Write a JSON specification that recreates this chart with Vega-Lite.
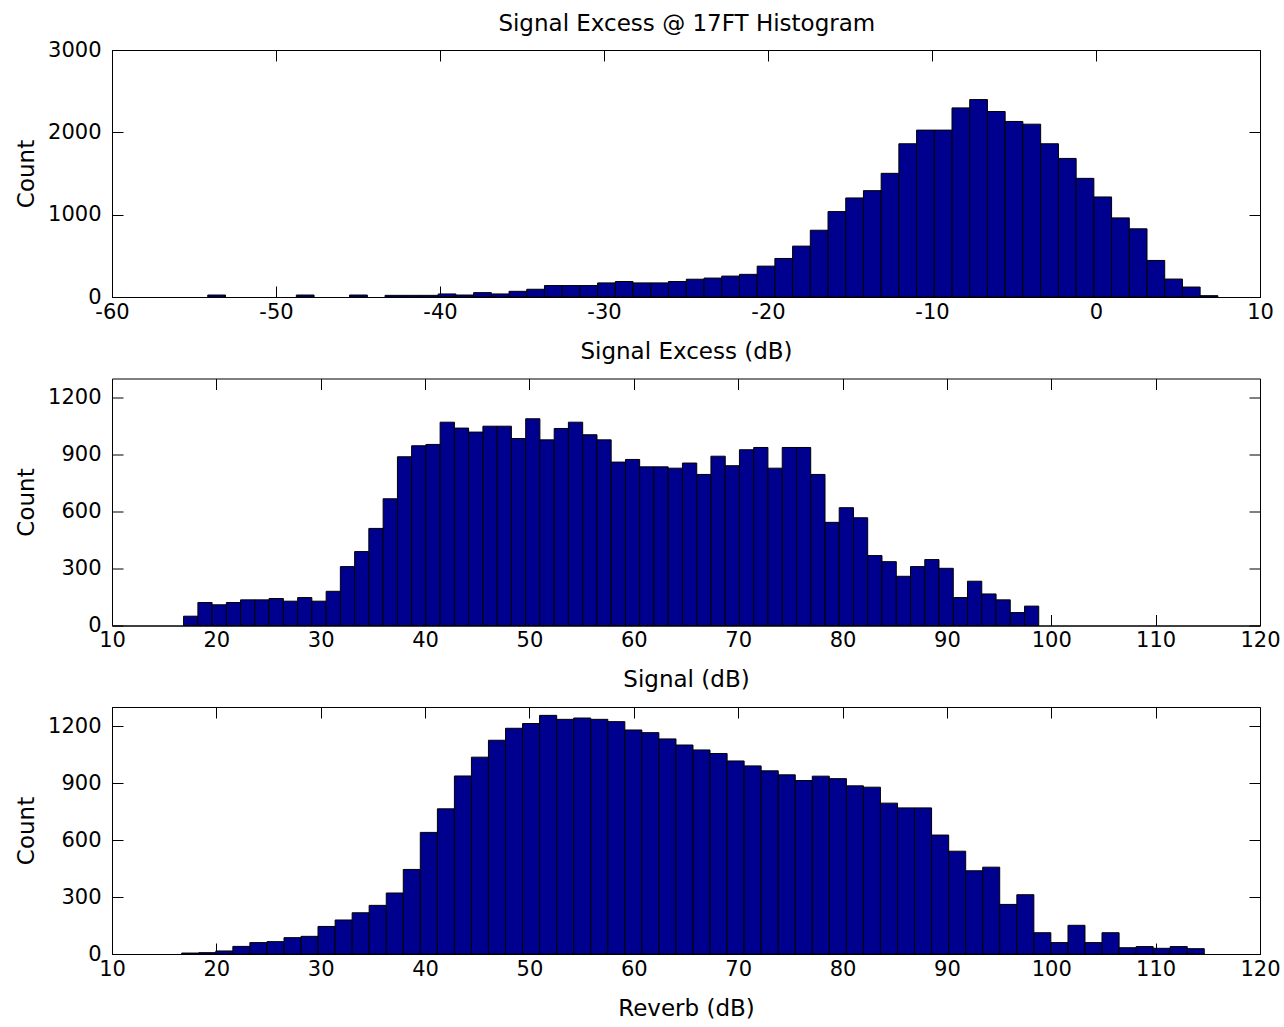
{
  "$schema": "https://vega.github.io/schema/vega-lite/v6.json",
  "background": "white",
  "padding": {"left": 15, "top": 12, "right": 15, "bottom": 5},
  "title": {"text": "Signal Excess @ 17FT Histogram", "anchor": "middle", "fontSize": 23, "font": "DejaVu Sans", "fontWeight": "normal", "color": "black", "offset": 3, "dx": 39},
  "config": {
    "font": "DejaVu Sans",
    "view": {"stroke": "black", "strokeWidth": 1},
    "axis": {"labelFontSize": 21, "titleFontSize": 23, "labelColor": "black", "titleColor": "black", "titleFontWeight": "normal", "domainColor": "black", "tickColor": "black", "grid": false, "labelFont": "DejaVu Sans", "titleFont": "DejaVu Sans", "labelFlush": false, "labelOverlap": false}
  },
  "spacing": 81.5,
  "bounds": "flush",
  "datasets": {
    "excess": [
      {"lo": -54.16, "hi": -53.08, "count": 24},
      {"lo": -48.76, "hi": -47.68, "count": 24},
      {"lo": -45.51, "hi": -44.43, "count": 24},
      {"lo": -43.35, "hi": -42.27, "count": 20},
      {"lo": -42.27, "hi": -41.19, "count": 20},
      {"lo": -41.19, "hi": -40.11, "count": 20},
      {"lo": -40.11, "hi": -39.03, "count": 37},
      {"lo": -39.03, "hi": -37.95, "count": 24},
      {"lo": -37.95, "hi": -36.87, "count": 53},
      {"lo": -36.87, "hi": -35.79, "count": 37},
      {"lo": -35.79, "hi": -34.71, "count": 69},
      {"lo": -34.71, "hi": -33.63, "count": 94},
      {"lo": -33.63, "hi": -32.55, "count": 139},
      {"lo": -32.55, "hi": -31.47, "count": 139},
      {"lo": -31.47, "hi": -30.39, "count": 139},
      {"lo": -30.39, "hi": -29.31, "count": 171},
      {"lo": -29.31, "hi": -28.23, "count": 188},
      {"lo": -28.23, "hi": -27.15, "count": 171},
      {"lo": -27.15, "hi": -26.07, "count": 171},
      {"lo": -26.07, "hi": -24.98, "count": 188},
      {"lo": -24.98, "hi": -23.90, "count": 216},
      {"lo": -23.90, "hi": -22.82, "count": 230},
      {"lo": -22.82, "hi": -21.74, "count": 254},
      {"lo": -21.74, "hi": -20.66, "count": 275},
      {"lo": -20.66, "hi": -19.58, "count": 375},
      {"lo": -19.58, "hi": -18.50, "count": 468},
      {"lo": -18.50, "hi": -17.42, "count": 618},
      {"lo": -17.42, "hi": -16.34, "count": 811},
      {"lo": -16.34, "hi": -15.26, "count": 1037},
      {"lo": -15.26, "hi": -14.18, "count": 1203},
      {"lo": -14.18, "hi": -13.10, "count": 1292},
      {"lo": -13.10, "hi": -12.02, "count": 1502},
      {"lo": -12.02, "hi": -10.94, "count": 1861},
      {"lo": -10.94, "hi": -9.86, "count": 2027},
      {"lo": -9.86, "hi": -8.78, "count": 2027},
      {"lo": -8.78, "hi": -7.70, "count": 2297},
      {"lo": -7.70, "hi": -6.62, "count": 2398},
      {"lo": -6.62, "hi": -5.54, "count": 2253},
      {"lo": -5.54, "hi": -4.46, "count": 2132},
      {"lo": -4.46, "hi": -3.375, "count": 2099},
      {"lo": -3.375, "hi": -2.29, "count": 1861},
      {"lo": -2.29, "hi": -1.21, "count": 1683},
      {"lo": -1.21, "hi": -0.13, "count": 1441},
      {"lo": -0.13, "hi": 0.95, "count": 1215},
      {"lo": 0.95, "hi": 2.03, "count": 961},
      {"lo": 2.03, "hi": 3.11, "count": 828},
      {"lo": 3.11, "hi": 4.19, "count": 444},
      {"lo": 4.19, "hi": 5.27, "count": 218},
      {"lo": 5.27, "hi": 6.35, "count": 121},
      {"lo": 6.35, "hi": 7.43, "count": 16}
    ],
    "signal": [
      {"lo": 16.86, "hi": 18.23, "count": 49},
      {"lo": 18.23, "hi": 19.59, "count": 121},
      {"lo": 19.59, "hi": 20.96, "count": 109},
      {"lo": 20.96, "hi": 22.32, "count": 121},
      {"lo": 22.32, "hi": 23.69, "count": 135},
      {"lo": 23.69, "hi": 25.05, "count": 135},
      {"lo": 25.05, "hi": 26.42, "count": 142},
      {"lo": 26.42, "hi": 27.79, "count": 128},
      {"lo": 27.79, "hi": 29.15, "count": 147},
      {"lo": 29.15, "hi": 30.52, "count": 128},
      {"lo": 30.52, "hi": 31.88, "count": 180},
      {"lo": 31.88, "hi": 33.25, "count": 310},
      {"lo": 33.25, "hi": 34.61, "count": 389},
      {"lo": 34.61, "hi": 35.98, "count": 511},
      {"lo": 35.98, "hi": 37.35, "count": 667},
      {"lo": 37.35, "hi": 38.71, "count": 888},
      {"lo": 38.71, "hi": 40.08, "count": 946},
      {"lo": 40.08, "hi": 41.44, "count": 953},
      {"lo": 41.44, "hi": 42.81, "count": 1070},
      {"lo": 42.81, "hi": 44.17, "count": 1039},
      {"lo": 44.17, "hi": 45.54, "count": 1018},
      {"lo": 45.54, "hi": 46.91, "count": 1049},
      {"lo": 46.91, "hi": 48.27, "count": 1049},
      {"lo": 48.27, "hi": 49.64, "count": 984},
      {"lo": 49.64, "hi": 51.00, "count": 1088},
      {"lo": 51.00, "hi": 52.37, "count": 977},
      {"lo": 52.37, "hi": 53.73, "count": 1037},
      {"lo": 53.73, "hi": 55.10, "count": 1070},
      {"lo": 55.10, "hi": 56.47, "count": 1004},
      {"lo": 56.47, "hi": 57.83, "count": 977},
      {"lo": 57.83, "hi": 59.20, "count": 860},
      {"lo": 59.20, "hi": 60.56, "count": 874},
      {"lo": 60.56, "hi": 61.93, "count": 835},
      {"lo": 61.93, "hi": 63.29, "count": 835},
      {"lo": 63.29, "hi": 64.66, "count": 828},
      {"lo": 64.66, "hi": 66.03, "count": 855},
      {"lo": 66.03, "hi": 67.39, "count": 795},
      {"lo": 67.39, "hi": 68.76, "count": 891},
      {"lo": 68.76, "hi": 70.12, "count": 841},
      {"lo": 70.12, "hi": 71.49, "count": 925},
      {"lo": 71.49, "hi": 72.85, "count": 937},
      {"lo": 72.85, "hi": 74.22, "count": 828},
      {"lo": 74.22, "hi": 75.59, "count": 937},
      {"lo": 75.59, "hi": 76.95, "count": 937},
      {"lo": 76.95, "hi": 78.32, "count": 795},
      {"lo": 78.32, "hi": 79.68, "count": 543},
      {"lo": 79.68, "hi": 81.05, "count": 620},
      {"lo": 81.05, "hi": 82.41, "count": 567},
      {"lo": 82.41, "hi": 83.78, "count": 368},
      {"lo": 83.78, "hi": 85.15, "count": 336},
      {"lo": 85.15, "hi": 86.51, "count": 259},
      {"lo": 86.51, "hi": 87.88, "count": 310},
      {"lo": 87.88, "hi": 89.24, "count": 347},
      {"lo": 89.24, "hi": 90.61, "count": 301},
      {"lo": 90.61, "hi": 91.97, "count": 147},
      {"lo": 91.97, "hi": 93.34, "count": 233},
      {"lo": 93.34, "hi": 94.71, "count": 166},
      {"lo": 94.71, "hi": 96.07, "count": 135},
      {"lo": 96.07, "hi": 97.44, "count": 68},
      {"lo": 97.44, "hi": 98.80, "count": 102}
    ],
    "reverb": [
      {"lo": 16.68, "hi": 18.31, "count": 5},
      {"lo": 18.31, "hi": 19.95, "count": 7},
      {"lo": 19.95, "hi": 21.58, "count": 16},
      {"lo": 21.58, "hi": 23.21, "count": 40},
      {"lo": 23.21, "hi": 24.85, "count": 60},
      {"lo": 24.85, "hi": 26.48, "count": 65},
      {"lo": 26.48, "hi": 28.11, "count": 86},
      {"lo": 28.11, "hi": 29.74, "count": 93},
      {"lo": 29.74, "hi": 31.38, "count": 145},
      {"lo": 31.38, "hi": 33.01, "count": 179},
      {"lo": 33.01, "hi": 34.64, "count": 217},
      {"lo": 34.64, "hi": 36.28, "count": 256},
      {"lo": 36.28, "hi": 37.91, "count": 321},
      {"lo": 37.91, "hi": 39.54, "count": 445},
      {"lo": 39.54, "hi": 41.18, "count": 640},
      {"lo": 41.18, "hi": 42.81, "count": 764},
      {"lo": 42.81, "hi": 44.44, "count": 937},
      {"lo": 44.44, "hi": 46.07, "count": 1036},
      {"lo": 46.07, "hi": 47.71, "count": 1125},
      {"lo": 47.71, "hi": 49.34, "count": 1188},
      {"lo": 49.34, "hi": 50.97, "count": 1213},
      {"lo": 50.97, "hi": 52.61, "count": 1256},
      {"lo": 52.61, "hi": 54.24, "count": 1235},
      {"lo": 54.24, "hi": 55.87, "count": 1242},
      {"lo": 55.87, "hi": 57.51, "count": 1235},
      {"lo": 57.51, "hi": 59.14, "count": 1223},
      {"lo": 59.14, "hi": 60.77, "count": 1179},
      {"lo": 60.77, "hi": 62.40, "count": 1165},
      {"lo": 62.40, "hi": 64.04, "count": 1132},
      {"lo": 64.04, "hi": 65.67, "count": 1100},
      {"lo": 65.67, "hi": 67.30, "count": 1074},
      {"lo": 67.30, "hi": 68.94, "count": 1055},
      {"lo": 68.94, "hi": 70.57, "count": 1016},
      {"lo": 70.57, "hi": 72.20, "count": 990},
      {"lo": 72.20, "hi": 73.84, "count": 964},
      {"lo": 73.84, "hi": 75.47, "count": 943},
      {"lo": 75.47, "hi": 77.10, "count": 913},
      {"lo": 77.10, "hi": 78.73, "count": 936},
      {"lo": 78.73, "hi": 80.37, "count": 923},
      {"lo": 80.37, "hi": 82.00, "count": 885},
      {"lo": 82.00, "hi": 83.63, "count": 878},
      {"lo": 83.63, "hi": 85.27, "count": 794},
      {"lo": 85.27, "hi": 86.90, "count": 769},
      {"lo": 86.90, "hi": 88.53, "count": 769},
      {"lo": 88.53, "hi": 90.17, "count": 626},
      {"lo": 90.17, "hi": 91.80, "count": 541},
      {"lo": 91.80, "hi": 93.43, "count": 438},
      {"lo": 93.43, "hi": 95.06, "count": 457},
      {"lo": 95.06, "hi": 96.70, "count": 261},
      {"lo": 96.70, "hi": 98.33, "count": 312},
      {"lo": 98.33, "hi": 99.96, "count": 112},
      {"lo": 99.96, "hi": 101.60, "count": 60},
      {"lo": 101.60, "hi": 103.23, "count": 151},
      {"lo": 103.23, "hi": 104.86, "count": 60},
      {"lo": 104.86, "hi": 106.50, "count": 112},
      {"lo": 106.50, "hi": 108.13, "count": 33},
      {"lo": 108.13, "hi": 109.76, "count": 39},
      {"lo": 109.76, "hi": 111.39, "count": 30},
      {"lo": 111.39, "hi": 113.03, "count": 39},
      {"lo": 113.03, "hi": 114.66, "count": 28}
    ]
  },
  "vconcat": [
    {
      "width": 1148, "height": 247,
      "data": {"name": "excess"},
      "resolve": {"axis": {"x": "independent", "y": "independent"}},
      "layer": [
        {
          "mark": {"type": "bar", "orient": "vertical", "fill": "#00008F", "stroke": "black", "strokeWidth": 1},
          "encoding": {
            "x": {"field": "lo", "type": "quantitative", "scale": {"domain": [-60, 10], "nice": false, "zero": false, "padding": 0},
                  "axis": {"values": [-60, -50, -40, -30, -20, -10, 0, 10], "tickSize": -11, "labelPadding": 15, "labelExpr": "'' + datum.value", "title": "Signal Excess (dB)", "titlePadding": 18}},
            "x2": {"field": "hi"},
            "y": {"field": "count", "type": "quantitative", "scale": {"domain": [0, 3000], "nice": false, "padding": 0},
                  "axis": {"values": [0, 1000, 2000, 3000], "tickSize": -11, "labelPadding": 22, "labelExpr": "'' + datum.value", "title": "Count", "titlePadding": 9}},
            "y2": {"datum": 0}
          }
        },
        {
          "mark": {"type": "bar", "orient": "vertical", "opacity": 0},
          "encoding": {
            "x": {"field": "lo", "type": "quantitative", "axis": {"orient": "top", "values": [-60, -50, -40, -30, -20, -10, 0, 10], "tickSize": -11, "labels": false, "domain": false, "title": null}},
            "x2": {"field": "hi"},
            "y": {"field": "count", "type": "quantitative", "axis": {"orient": "right", "values": [0, 1000, 2000, 3000], "tickSize": -11, "labels": false, "domain": false, "title": null}},
            "y2": {"datum": 0}
          }
        }
      ]
    },
    {
      "width": 1148, "height": 247,
      "data": {"name": "signal"},
      "resolve": {"axis": {"x": "independent", "y": "independent"}},
      "layer": [
        {
          "mark": {"type": "bar", "orient": "vertical", "fill": "#00008F", "stroke": "black", "strokeWidth": 1},
          "encoding": {
            "x": {"field": "lo", "type": "quantitative", "scale": {"domain": [10, 120], "nice": false, "zero": false, "padding": 0},
                  "axis": {"values": [10, 20, 30, 40, 50, 60, 70, 80, 90, 100, 110, 120], "tickSize": -11, "labelPadding": 15, "labelExpr": "'' + datum.value", "title": "Signal (dB)", "titlePadding": 18}},
            "x2": {"field": "hi"},
            "y": {"field": "count", "type": "quantitative", "scale": {"domain": [0, 1300], "nice": false, "padding": 0},
                  "axis": {"values": [0, 300, 600, 900, 1200], "tickSize": -11, "labelPadding": 22, "labelExpr": "'' + datum.value", "title": "Count", "titlePadding": 9}},
            "y2": {"datum": 0}
          }
        },
        {
          "mark": {"type": "bar", "orient": "vertical", "opacity": 0},
          "encoding": {
            "x": {"field": "lo", "type": "quantitative", "axis": {"orient": "top", "values": [10, 20, 30, 40, 50, 60, 70, 80, 90, 100, 110, 120], "tickSize": -11, "labels": false, "domain": false, "title": null}},
            "x2": {"field": "hi"},
            "y": {"field": "count", "type": "quantitative", "axis": {"orient": "right", "values": [0, 300, 600, 900, 1200], "tickSize": -11, "labels": false, "domain": false, "title": null}},
            "y2": {"datum": 0}
          }
        }
      ]
    },
    {
      "width": 1148, "height": 247,
      "data": {"name": "reverb"},
      "resolve": {"axis": {"x": "independent", "y": "independent"}},
      "layer": [
        {
          "mark": {"type": "bar", "orient": "vertical", "fill": "#00008F", "stroke": "black", "strokeWidth": 1},
          "encoding": {
            "x": {"field": "lo", "type": "quantitative", "scale": {"domain": [10, 120], "nice": false, "zero": false, "padding": 0},
                  "axis": {"values": [10, 20, 30, 40, 50, 60, 70, 80, 90, 100, 110, 120], "tickSize": -11, "labelPadding": 15, "labelExpr": "'' + datum.value", "title": "Reverb (dB)", "titlePadding": 18}},
            "x2": {"field": "hi"},
            "y": {"field": "count", "type": "quantitative", "scale": {"domain": [0, 1300], "nice": false, "padding": 0},
                  "axis": {"values": [0, 300, 600, 900, 1200], "tickSize": -11, "labelPadding": 22, "labelExpr": "'' + datum.value", "title": "Count", "titlePadding": 9}},
            "y2": {"datum": 0}
          }
        },
        {
          "mark": {"type": "bar", "orient": "vertical", "opacity": 0},
          "encoding": {
            "x": {"field": "lo", "type": "quantitative", "axis": {"orient": "top", "values": [10, 20, 30, 40, 50, 60, 70, 80, 90, 100, 110, 120], "tickSize": -11, "labels": false, "domain": false, "title": null}},
            "x2": {"field": "hi"},
            "y": {"field": "count", "type": "quantitative", "axis": {"orient": "right", "values": [0, 300, 600, 900, 1200], "tickSize": -11, "labels": false, "domain": false, "title": null}},
            "y2": {"datum": 0}
          }
        }
      ]
    }
  ]
}
